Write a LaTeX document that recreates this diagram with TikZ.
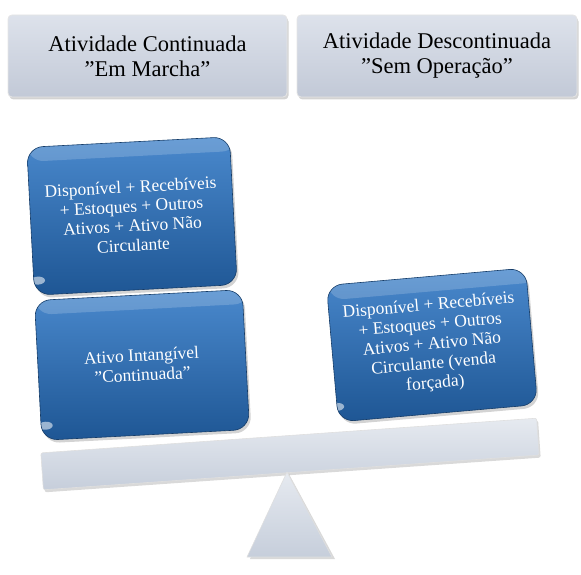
\documentclass[tikz,border=0pt]{standalone}
\usepackage{fontspec}
\setmainfont{Liberation Serif}
\usetikzlibrary{shadows}
\definecolor{hdrtop}{HTML}{DDE2EB}
\definecolor{hdrbot}{HTML}{C2C9D7}
\definecolor{bluetop}{HTML}{4A89CD}
\definecolor{bluebot}{HTML}{1E5694}
\definecolor{beamtop}{HTML}{E6EAF0}
\definecolor{beambot}{HTML}{C6CEDB}
\newcommand{\dq}{\symbol{34}}
\tikzset{
 hdr/.style={rounded corners=4pt, top color=hdrtop, bottom color=hdrbot,
   draw=white!80!gray, line width=0.8pt, minimum height=82pt,
   drop shadow={shadow xshift=1.5pt, shadow yshift=-2.5pt, opacity=0.35},
   font=\fontsize{22.5}{25}\selectfont, align=center, text=black, inner sep=0pt},
 gloss/.style={path picture={
   \fill[white, opacity=0.18] (path picture bounding box.north west) rectangle
     ([yshift=-14pt]path picture bounding box.north east);
   \fill[white, opacity=0.55] ([xshift=12pt,yshift=14pt]path picture bounding box.south west) circle[x radius=7pt, y radius=4pt];}},
 bluebox/.style={rounded corners=16pt, top color=bluetop, bottom color=bluebot,
   draw=bluebot!70!black, line width=0.6pt, gloss,
   drop shadow={shadow xshift=2pt, shadow yshift=-3pt, opacity=0.35},
   text=white, font=\fontsize{17.5}{19.5}\selectfont, align=center, inner sep=0pt},
 beamstyle/.style={rounded corners=2pt, top color=beamtop, bottom color=beambot,
   draw=white!75!gray, line width=0.6pt,
   drop shadow={shadow xshift=1.5pt, shadow yshift=-2.5pt, opacity=0.3}},
}
\begin{document}
\begin{tikzpicture}[x=1pt,y=1pt]
\useasboundingbox (0,0) rectangle (581,574);
% headers
\node[hdr, minimum width=279pt] (hl) at (147.5,518) {Atividade Continuada\\\dq Em Marcha\dq};
\node[hdr, minimum width=280pt] (hr) at (437,518) {Atividade Descontinuada\\\dq Sem Operação\dq};
% beam
\node[beamstyle, minimum width=497pt, minimum height=37pt, rotate=4] (beam) at (290,120) {};
% fulcrum
\fill[gray, opacity=0.3] (289,100) -- (250,15) -- (335,15) -- cycle;
\path[top color=beamtop, bottom color=beambot, draw=white!75!gray, line width=0.6pt]
  (287,102) coordinate (apex) -- (247,17) coordinate (bl) -- (332,17) coordinate (br) -- cycle;
% blue boxes
\node[bluebox, minimum width=203pt, minimum height=148pt, rotate=3] (b1) at (132,358)
  {Disponível + Recebíveis\\+ Estoques + Outros\\Ativos + Ativo Não\\Circulante};
\node[bluebox, minimum width=208pt, minimum height=140pt, rotate=3] (b2) at (142,209)
  {Ativo Intangível\\\dq Continuada\dq};
\node[bluebox, minimum width=200pt, minimum height=137pt, rotate=5] (b3) at (432,229)
  {Disponível + Recebíveis\\+ Estoques + Outros\\Ativos + Ativo Não\\Circulante (venda\\forçada)};
\end{tikzpicture}
\end{document}
